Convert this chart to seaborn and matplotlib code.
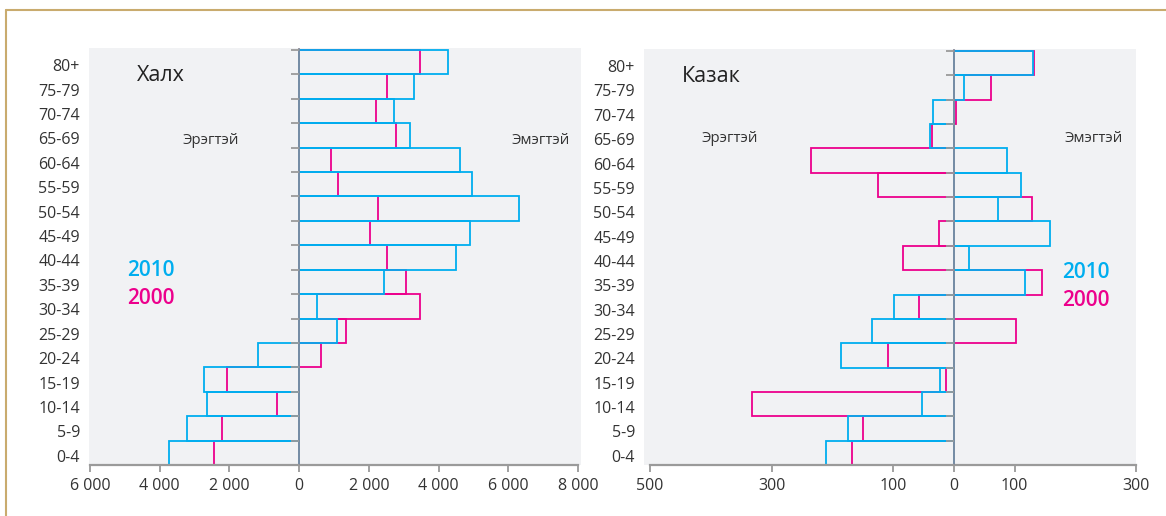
import numpy as np
import pandas as pd
import matplotlib
matplotlib.use("Agg")
import matplotlib.pyplot as plt
from matplotlib.lines import Line2D
from matplotlib.ticker import FuncFormatter
from matplotlib.transforms import ScaledTranslation
import seaborn as sns

# ---------------- data (negative = male surplus, positive = female surplus)
ages = ["80+", "75-79", "70-74", "65-69", "60-64", "55-59", "50-54", "45-49",
        "40-44", "35-39", "30-34", "25-29", "20-24", "15-19", "10-14", "5-9", "0-4"]

khalkh_2010 = [4270, 3300, 2710, 3190, 4610, 4960, 6300, 4910,
               4500, 2440, 510, 1100, -1190, -2740, -2630, -3220, -3720]
khalkh_2000 = [3470, 2520, 2210, 2770, 910, 1120, 2250, 2040,
               2520, 3070, 3470, 1330, 640, -2070, -630, -2210, -2430]

kazakh_2010 = [130, 17, -35, -39, 87, 111, 73, 158,
               25, 117, -99, -135, -186, -23, -53, -174, -210]
kazakh_2000 = [132, 61, 3, -36, -235, -125, 129, -25,
               -84, 145, -58, 103, -108, -13, -333, -149, -168]

left_ticks = [-6000, -4000, -2000, 0, 2000, 4000, 6000, 8000]
right_ticks = [-500, -300, -100, 0, 100, 300]

titles = ["Халх", "Казак"]
male_label = "Эрэгтэй"
female_label = "Эмэгтэй"
year_new, year_old = "2010", "2000"

# ---------------- style
sns.set_theme(style="white")
plt.rcParams["font.family"] = ["Open Sans", "DejaVu Sans"]

CYAN = "#00aeef"
MAGENTA = "#ec008c"
BG = "#f1f2f4"
AXIS = "#9a9a9a"
TXT = "#333333"

fig = plt.figure(figsize=(11.66, 5.16), dpi=100)
W, H = 1166, 516

def add_axes(x0, x1, ytop, ybot):
    return fig.add_axes([x0 / W, (H - ybot) / H, (x1 - x0) / W, (ybot - ytop) / H])

ax1 = add_axes(89, 581, 48, 465)
ax2 = add_axes(644, 1136, 49, 465)

def fmt_abs(v, pos):
    return f"{abs(int(round(v))):,}".replace(",", " ")

def draw_panel(ax, v2010, v2000, xlim, ticks, title, pos):
    ax.set_facecolor(BG)
    sns.barplot(x=np.array(v2000), y=ages, order=ages, orient="h", fill=False,
                color=MAGENTA, width=1.0, linewidth=1.3, errorbar=None, ax=ax)
    sns.barplot(x=np.array(v2010), y=ages, order=ages, orient="h", fill=False,
                color=CYAN, width=1.0, linewidth=1.3, errorbar=None, ax=ax)
    n = len(ages)
    ax.axvline(0, color="#8a8a98", lw=1.4, alpha=0.85, zorder=5)
    bounds = np.arange(n + 1) - 0.5
    ax.plot(np.zeros(len(bounds)), bounds, ls="none", marker=0, ms=6,
            mew=1.3, color=AXIS, zorder=6, clip_on=False)
    ax.set_xlim(*xlim)
    ax.set_ylim(n - 0.5, -0.58)
    for s in ["top", "right", "left"]:
        ax.spines[s].set_visible(False)
    ax.spines["bottom"].set_color(AXIS)
    ax.spines["bottom"].set_linewidth(1.6)
    ax.spines["bottom"].set_bounds(ticks[0], ticks[-1])
    ax.set_xticks(ticks)
    ax.xaxis.set_major_formatter(FuncFormatter(fmt_abs))
    ax.tick_params(axis="x", bottom=True, length=5, width=1.3, color=AXIS,
                   labelsize=11.5, labelcolor=TXT, pad=4)
    ax.tick_params(axis="y", left=False, length=0, labelsize=11.5,
                   labelcolor=TXT, pad=6.5)
    shift = ScaledTranslation(0, -3 / 100, fig.dpi_scale_trans)
    for lab in ax.get_yticklabels():
        lab.set_transform(lab.get_transform() + shift)
    ax.set_xlabel("")
    ax.set_ylabel("")
    ax.text(pos["title"][0], pos["title"][1], title, transform=ax.transAxes,
            fontsize=15.5, color="#222222", ha="left", va="center")
    ax.text(pos["male"][0], pos["male"][1], male_label, transform=ax.transAxes,
            fontsize=10.8, color=TXT, ha="center", va="center")
    ax.text(pos["female"][0], pos["female"][1], female_label, transform=ax.transAxes,
            fontsize=10.8, color=TXT, ha="center", va="center")
    ax.text(pos["leg"][0], pos["leg"][1], year_new, transform=ax.transAxes,
            fontsize=15, color=CYAN, ha="left", va="center", fontweight="semibold")
    ax.text(pos["leg"][0], pos["leg"][1] - 0.067, year_old, transform=ax.transAxes,
            fontsize=15, color=MAGENTA, ha="left", va="center", fontweight="semibold")

draw_panel(ax1, khalkh_2010, khalkh_2000, (-6029, 8086), left_ticks, titles[0],
           {"title": (0.0976, 0.933), "male": (0.248, 0.777),
            "female": (0.917, 0.777), "leg": (0.077, 0.466)})
draw_panel(ax2, kazakh_2010, kazakh_2000, (-510, 297), right_ticks, titles[1],
           {"title": (0.077, 0.933), "male": (0.175, 0.784),
            "female": (0.914, 0.784), "leg": (0.849, 0.462)})

# decorative frame (tan lines, left and top)
ty = (H - 9.5) / H
lx = 6 / W
fig.add_artist(Line2D([lx, lx], [0, ty], transform=fig.transFigure,
                      color="#c9ab6e", lw=1.5))
fig.add_artist(Line2D([lx, 1], [ty, ty], transform=fig.transFigure,
                      color="#c9ab6e", lw=1.5))

fig.savefig("out.png", dpi=100, facecolor="white")
